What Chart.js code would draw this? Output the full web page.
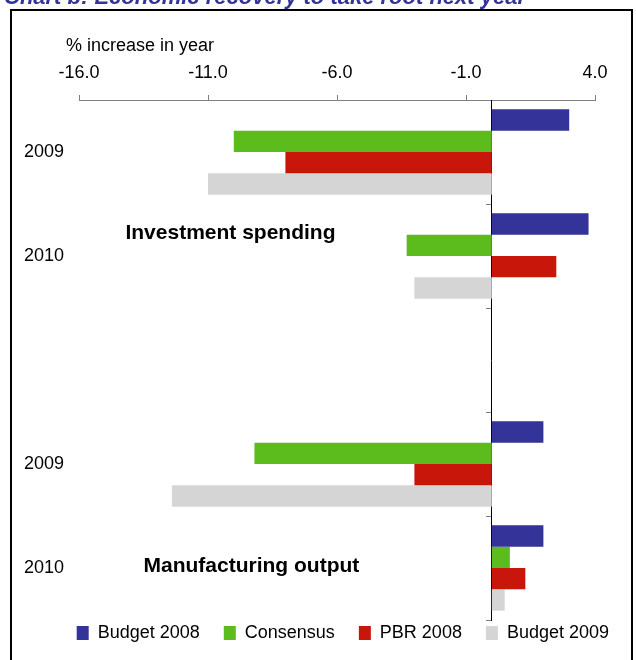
<!DOCTYPE html>
<html>
<head>
<meta charset="utf-8">
<script src="https://cdn.jsdelivr.net/npm/chart.js@4.4.1/dist/chart.umd.min.js"></script>
<style>
  html, body { margin: 0; padding: 0; background: #fff; }
  #wrap { width: 636px; height: 660px; }
</style>
</head>
<body>
<div id="wrap"><canvas id="chart" width="636" height="660"></canvas></div>
<script>
  'use strict';

  // categories: two years per block, empty slot between the blocks
  var years = ['2009', '2010', '', '2009', '2010'];
  var seriesNames = ['Budget 2008', 'Consensus', 'PBR 2008', 'Budget 2009'];
  var seriesColors = ['#333399', '#5cbb1d', '#c8160a', '#d5d5d5'];

  var budget2008 = [3.0, 3.75, null, 2.0, 2.0];
  var consensus = [-10.0, -3.3, null, -9.2, 0.7];
  var pbr2008 = [-8.0, 2.5, null, -3.0, 1.3];
  var budget2009 = [-11.0, -3.0, null, -12.4, 0.5];

  var xTicks = [-16, -11, -6, -1, 4];

  var titleText = 'Chart b: Economic recovery to take root next year';
  var unitText = '% increase in year';
  var blockNames = ['Investment spending', 'Manufacturing output'];

  var FONT = '"Liberation Sans", Arial, Helvetica, sans-serif';
  Chart.defaults.font.family = FONT;
  Chart.defaults.color = '#000';

  var series = [budget2008, consensus, pbr2008, budget2009];
  var datasets = series.map(function (vals, i) {
    return {
      label: seriesNames[i],
      data: vals,
      backgroundColor: seriesColors[i],
      borderWidth: 0,
      categoryPercentage: 0.82,
      barPercentage: 1.0
    };
  });

  // frame, title strip and text labels inside the plot
  var decor = {
    id: 'decor',
    beforeDraw: function (chart) {
      var ctx = chart.ctx;
      ctx.save();
      ctx.fillStyle = '#fff';
      ctx.fillRect(0, 0, chart.width, chart.height);
      ctx.fillStyle = '#333399';
      ctx.font = 'italic bold 22px ' + FONT;
      ctx.textBaseline = 'alphabetic';
      ctx.fillText(titleText, 4, 4);
      ctx.strokeStyle = '#000';
      ctx.lineWidth = 2;
      ctx.strokeRect(11, 10, 621, 680);
      ctx.fillStyle = '#000';
      ctx.font = '18px ' + FONT;
      ctx.textBaseline = 'middle';
      ctx.fillText(unitText, 66, 46);
      ctx.restore();
    },
    afterDatasetsDraw: function (chart) {
      var ctx = chart.ctx;
      var xs = chart.scales.x, ys = chart.scales.y;
      ctx.save();
      ctx.fillStyle = '#000';
      ctx.font = 'bold 21px ' + FONT;
      ctx.textBaseline = 'middle';
      ctx.fillText(blockNames[0], xs.getPixelForValue(-14.2), ys.getPixelForValue(0.78));
      ctx.fillText(blockNames[1], xs.getPixelForValue(-13.5), ys.getPixelForValue(3.98));
      ctx.restore();
    }
  };

  var ctx = document.getElementById('chart');
  var chart = new Chart(ctx, {
    type: 'bar',
    data: { labels: years, datasets: datasets },
    plugins: [decor],
    options: {
      responsive: false,
      animation: false,
      indexAxis: 'y',
      layout: { padding: { left: 10, right: 23, top: 0, bottom: 8 } },
      scales: {
        x: {
          position: 'top',
          min: -16,
          max: 4,
          afterFit: function (s) { s.height = 100; },
          afterBuildTicks: function (s) {
            s.ticks = xTicks.map(function (v) { return { value: v }; });
          },
          ticks: {
            font: { size: 18 },
            color: '#000',
            padding: 11,
            maxRotation: 0,
            callback: function (v) { return Number(v).toFixed(1); }
          },
          grid: {
            drawOnChartArea: false,
            drawTicks: true,
            tickLength: 5,
            color: '#808080'
          },
          border: { display: true, color: '#808080', width: 1 }
        },
        y: {
          position: 'left',
          offset: true,
          afterFit: function (s) { s.width = 69; },
          ticks: { font: { size: 18 }, color: '#000', padding: 7 },
          grid: { display: false },
          border: { display: false }
        },
        // zero line with category tick marks
        yz: {
          axis: 'y',
          type: 'category',
          position: { x: 0 },
          offset: true,
          ticks: { display: false },
          grid: {
            offset: true,
            drawOnChartArea: false,
            drawTicks: true,
            tickLength: 5,
            color: '#808080'
          },
          border: { display: true, color: '#000', width: 1 }
        },
        // blank right margin between plot and frame
        yr: {
          axis: 'y',
          type: 'category',
          position: 'right',
          afterFit: function (s) { s.width = 18; },
          ticks: { display: false },
          grid: { display: false },
          border: { display: false }
        }
      },
      plugins: {
        tooltip: { enabled: false },
        legend: {
          position: 'bottom',
          align: 'end',
          maxHeight: 32,
          labels: {
            boxWidth: 12,
            boxHeight: 14,
            padding: 4,
            color: '#000',
            font: { size: 18 },
            generateLabels: function (c) {
              var items = Chart.defaults.plugins.legend.labels.generateLabels(c);
              items.forEach(function (it, i) {
                if (i < items.length - 1) it.text = it.text + '    ';
                it.lineWidth = 0;
              });
              return items;
            }
          }
        }
      }
    }
  });
</script>
</body>
</html>
